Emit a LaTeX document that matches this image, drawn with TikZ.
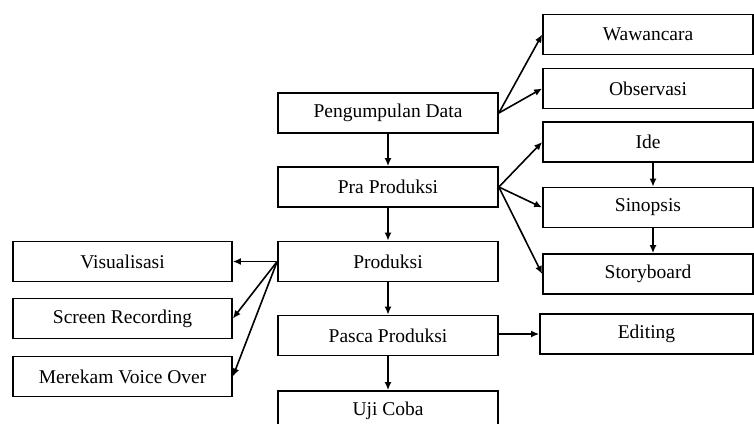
\documentclass[tikz,border=0pt]{standalone}
\usepackage{fontspec}
\setmainfont{Liberation Serif}
\usetikzlibrary{arrows.meta}

\tikzset{
  box/.style={draw, line width=1.7pt, minimum height=40pt, inner sep=0pt,
              font=\fontsize{19.5}{21}\selectfont},
  midbox/.style={box, minimum width=220pt},
  rightbox/.style={box, minimum width=210pt},
  leftbox/.style={box, minimum width=219pt},
  link/.style={line width=1.6pt, -{Latex[length=8pt,width=7pt]}}
}

\begin{document}
\begin{tikzpicture}[x=1pt, y=-1pt]
    \clip (0,0) rectangle (754,423);

    % Alur utama
    \node[midbox] (kumpul) at (388, 113) {Pengumpulan Data};
    \node[midbox] (pra) at (388, 187) {Pra Produksi};
    \node[midbox] (prod) at (388, 261.5) {Produksi};
    \node[midbox] (pasca) at (388, 335.5) {Pasca Produksi};
    \node[midbox] (uji) at (388, 411) {Uji Coba};

    % Kolom kanan
    \node[rightbox] (wawan) at (648, 34.5) {Wawancara};
    \node[rightbox] (obs) at (648, 88.5) {Observasi};
    \node[rightbox] (ide) at (648, 142) {Ide};
    \node[rightbox] (sinop) at (648, 207.5) {Sinopsis};
    \node[rightbox] (story) at (648, 274) {Storyboard};
    \node[box, minimum width=213pt] (edit) at (646.5, 334) {Editing};

    % Kolom kiri
    \node[leftbox] (visual) at (122.5, 261.5) {Visualisasi};
    \node[leftbox] (screen) at (122.5, 318.5) {Screen Recording};
    \node[leftbox] (voice) at (122.5, 376.5) {Merekam Voice Over};

    % Panah
    \draw[link] (kumpul) -- (pra);
    \draw[link] (pra) -- (prod);
    \draw[link] (prod) -- (pasca);
    \draw[link] (pasca) -- (uji);

    \draw[link] (kumpul.east) -- (wawan.west);
    \draw[link] (kumpul.east) -- (obs.west);

    \draw[link] (pra.east) -- (ide.west);
    \draw[link] (pra.east) -- (sinop.west);
    \draw[link] (pra.east) -- (story.west);
    \draw[link] ([xshift=5pt]ide.south) -- ([xshift=5pt]sinop.north);
    \draw[link] ([xshift=5pt]sinop.south) -- ([xshift=5pt]story.north);

    \draw[link] (prod.west) -- (visual.east);
    \draw[link] (prod.west) -- (screen.east);
    \draw[link] (prod.west) -- (voice.east);

    \draw[link] (pasca.east |- edit.west) -- (edit.west);
\end{tikzpicture}
\end{document}
